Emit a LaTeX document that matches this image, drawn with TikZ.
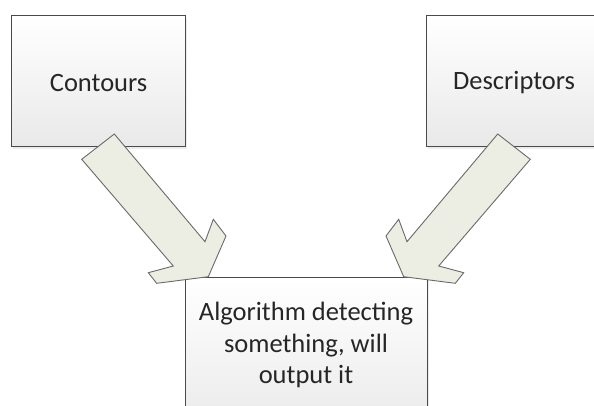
\documentclass[tikz,border=0pt]{standalone}
\usepackage{fontspec}
\setmainfont{Carlito}
\usetikzlibrary{shadows}
\definecolor{boxline}{HTML}{4A4A4A}
\definecolor{boxbottom}{HTML}{E9E9E9}
\definecolor{arrowfill}{HTML}{ECEEE4}
\definecolor{arrowline}{HTML}{6A6A6A}
\definecolor{txt}{HTML}{262626}
\tikzset{
  panel/.style={draw=boxline, line width=1.2pt, top color=white, bottom color=boxbottom,
    drop shadow={shadow xshift=1.5pt, shadow yshift=-2pt, opacity=0.15},
    inner sep=0pt, anchor=north west},
  blockarrow/.style={draw=arrowline, fill=arrowfill, line width=0.9pt, line join=miter},
  label/.style={font=\fontsize{26.5}{31.5}\selectfont, text=txt, align=center, inner sep=0pt}
}
\begin{document}
\begin{tikzpicture}[x=1pt,y=-1pt]
\useasboundingbox (0,0) rectangle (594,405);
\clip (0,0) rectangle (594,405);
\fill[white] (0,0) rectangle (594,405);
% boxes
\node[panel, minimum width=174pt, minimum height=131pt] (contours) at (11,15) {};
\node[label] (contourstxt) at ([yshift=-1.5pt]contours.center) {Contours};
\node[panel, minimum width=175pt, minimum height=131pt] (descriptors) at (426,15) {};
\node[label] (descriptorstxt) at ([yshift=-1.5pt]descriptors.center) {Descriptors};
\node[panel, minimum width=242pt, minimum height=160pt] (algo) at (185,277) {};
\node[label, anchor=north] (algotxt) at (306,302) {Algorithm detecting\\something, will\\output it};
% block arrows
\draw[blockarrow] (114.3,134) -- (205,241.7) -- (213.3,219.3) -- (226,236) -- (208.3,276.7)
  -- (156.7,283.3) -- (148.3,272.7) -- (173.3,266) -- (81.7,159.3) -- cycle;
\draw[blockarrow] (497.7,134) -- (530.3,159.3) -- (438.7,266) -- (463.7,272.7) -- (455.3,283.3)
  -- (403.7,276.7) -- (386,236) -- (398.7,219.3) -- (407,241.7) -- cycle;
\end{tikzpicture}
\end{document}
